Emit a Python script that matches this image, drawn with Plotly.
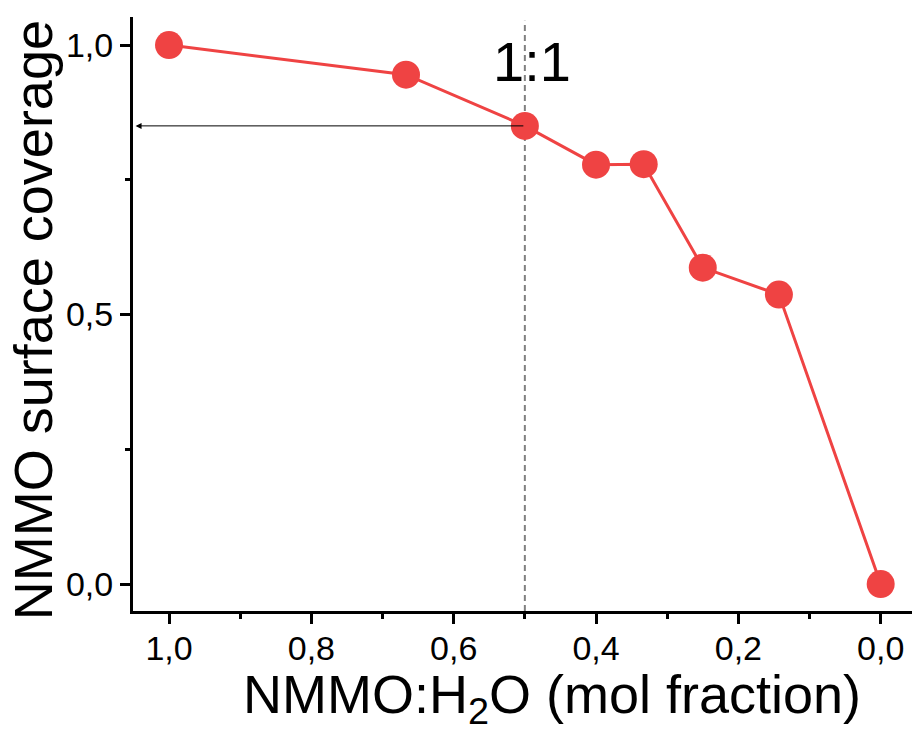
import plotly.graph_objects as go

x_frac = [1.0, 0.667, 0.5, 0.4, 0.333, 0.25, 0.143, 0.0]
coverage = [1.0, 0.945, 0.85, 0.778, 0.779, 0.587, 0.537, 0.0]
x_ticks = [1.0, 0.8, 0.6, 0.4, 0.2, 0.0]
y_ticks = [0.0, 0.5, 1.0]

red = "#EF4343"
font_family = "Arial, Liberation Sans, sans-serif"

fig = go.Figure()
fig.add_trace(go.Scatter(
    x=x_frac, y=coverage, mode="lines+markers",
    line=dict(color=red, width=3),
    marker=dict(color=red, size=28),
    showlegend=False,
))

# dashed vertical at 1:1
fig.add_shape(type="line", x0=0.5, x1=0.5, y0=-0.05, y1=1.045, xref="x", yref="y",
              line=dict(color="#808080", width=2, dash="6px,4px"), layer="below")

# arrow to y axis
fig.add_annotation(x=1.047, y=coverage[2], ax=0.5, ay=coverage[2], xref="x", yref="y",
                   axref="x", ayref="y", showarrow=True, arrowhead=2, arrowsize=1.2,
                   arrowwidth=1, arrowcolor="black", text="")

fig.add_annotation(x=0.49, y=0.97, xref="x", yref="y", text="1:1", showarrow=False,
                   font=dict(size=56, color="black", family=font_family))

# axis titles
fig.add_annotation(x=0.538, y=-0.147, xref="paper", yref="paper", text="NMMO:H<sub>2</sub>O (mol fraction)",
                   showarrow=False, xanchor="center", yanchor="middle",
                   font=dict(size=54, color="black", family=font_family))
fig.add_annotation(x=-0.128, y=0.49, xref="paper", yref="paper", text="NMMO surface coverage",
                   showarrow=False, xanchor="center", yanchor="middle", textangle=-90,
                   font=dict(size=54, color="black", family=font_family))

fig.update_layout(
    width=912, height=733,
    margin=dict(l=133, r=0, t=17, b=122),
    paper_bgcolor="white", plot_bgcolor="white",
    separators=",.",
    font=dict(family=font_family, color="black"),
    xaxis=dict(
        range=[1.0506, -0.044], tickvals=x_ticks, tickformat=".1f",
        showgrid=False, zeroline=False, showline=True, linecolor="black", linewidth=3,
        ticks="outside", ticklen=10, tickwidth=3, tickcolor="black",
        minor=dict(dtick=0.1, tick0=0.1, ticks="outside", ticklen=5, tickwidth=3, tickcolor="black", showgrid=False),
        tickfont=dict(size=34), ticklabelstandoff=-5,
    ),
    yaxis=dict(
        range=[-0.05, 1.052], tickvals=y_ticks, tickformat=".1f",
        showgrid=False, zeroline=False, showline=True, linecolor="black", linewidth=3,
        ticks="outside", ticklen=10, tickwidth=3, tickcolor="black",
        minor=dict(dtick=0.25, tick0=0, ticks="outside", ticklen=5, tickwidth=3, tickcolor="black", showgrid=False),
        tickfont=dict(size=34),
    ),
)

fig.write_html("out.html")
